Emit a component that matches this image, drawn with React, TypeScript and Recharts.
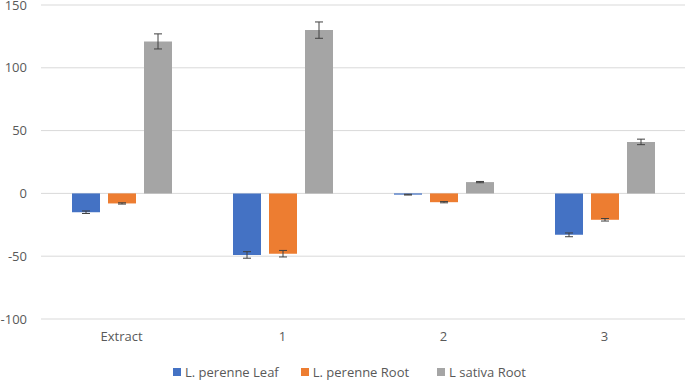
import React from 'react';
import {
  BarChart,
  Bar,
  XAxis,
  YAxis,
  CartesianGrid,
  Legend,
  ErrorBar,
} from 'recharts';

const categories = ['Extract', '1', '2', '3'];
const perenneLeaf = [-15, -49, -1, -33];
const perenneLeafErr = [1, 2.6, 0.3, 1.5];
const perenneRoot = [-8, -48, -7, -21];
const perenneRootErr = [0.5, 2.6, 0.5, 1];
const sativaRoot = [121, 130, 9, 41];
const sativaRootErr = [6, 6.5, 0.5, 2.2];
const yTicks = [-100, -50, 0, 50, 100, 150];

const seriesInfo = [
  { key: 'leaf', name: 'L. perenne Leaf', color: '#4472C4' },
  { key: 'root', name: 'L. perenne Root', color: '#ED7D31' },
  { key: 'sativa', name: 'L sativa Root', color: '#A5A5A5' },
];

const data = categories.map((c, i) => ({
  name: c,
  leaf: perenneLeaf[i],
  leafErr: perenneLeafErr[i],
  root: perenneRoot[i],
  rootErr: perenneRootErr[i],
  sativa: sativaRoot[i],
  sativaErr: sativaRootErr[i],
}));

const FONT = '"Open Sans", sans-serif';
const TEXT = '#595959';
const legendGaps = [22, 28, 0];

const LegendContent = () => (
  <div
    style={{
      display: 'flex',
      justifyContent: 'center',
      fontFamily: FONT,
      fontSize: 13,
      color: TEXT,
      paddingLeft: 14,
    }}
  >
    {seriesInfo.map((s, i) => (
      <div
        key={s.key}
        style={{ display: 'flex', alignItems: 'center', marginRight: legendGaps[i] }}
      >
        <span style={{ width: 8, height: 8, background: s.color, marginRight: 4, display: 'inline-block' }} />
        <span>{s.name}</span>
      </div>
    ))}
  </div>
);

export default function App() {
  return (
    <div style={{ position: 'absolute', left: 0, top: 0, width: 685, height: 388, background: '#fff' }}>
      <BarChart
        width={685}
        height={388}
        data={data}
        margin={{ top: 5, right: 0, left: 0, bottom: 5 }}
        barCategoryGap={31}
        barGap={8}
      >
        <CartesianGrid vertical={false} stroke="#d9d9d9" />
        <XAxis
          dataKey="name"
          axisLine={false}
          tickLine={false}
          tickSize={0}
          tickMargin={13}
          height={44}
          tick={{ fill: TEXT, fontSize: 13, fontFamily: FONT }}
        />
        <YAxis
          domain={[-100, 150]}
          ticks={yTicks}
          interval={0}
          width={41}
          axisLine={false}
          tickLine={false}
          tickSize={0}
          tickMargin={14}
          tick={{ fill: TEXT, fontSize: 13, fontFamily: FONT }}
        />
        <Legend verticalAlign="bottom" height={20} content={<LegendContent />} />
        {seriesInfo.map((s) => (
          <Bar key={s.key} dataKey={s.key} name={s.name} fill={s.color} isAnimationActive={false}>
            <ErrorBar dataKey={`${s.key}Err`} width={4} stroke="#404040" strokeWidth={1} direction="y" />
          </Bar>
        ))}
      </BarChart>
    </div>
  );
}
